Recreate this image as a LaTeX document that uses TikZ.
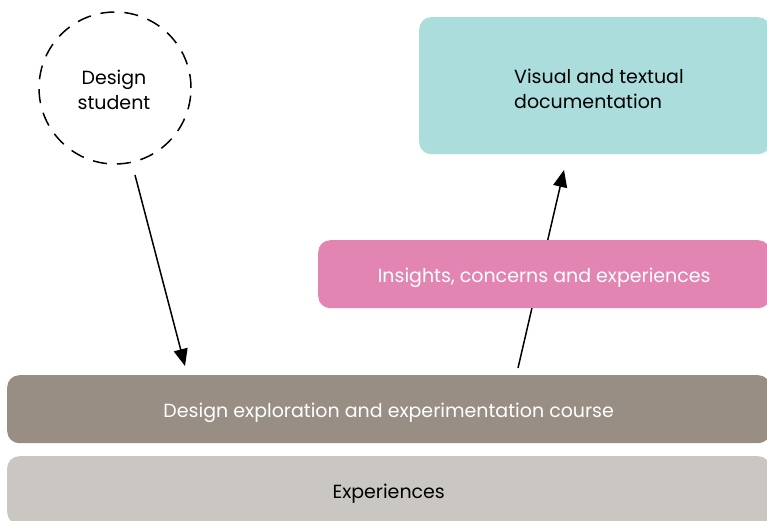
\documentclass[tikz,border=0pt]{standalone}
\usepackage{fontspec}
\setmainfont{Poppins}
\usetikzlibrary{arrows.meta}
\definecolor{tealbox}{HTML}{ABDDDC}
\definecolor{pinkbox}{HTML}{E385B3}
\definecolor{brownbox}{HTML}{998E84}
\definecolor{greybox}{HTML}{CAC7C2}
\tikzset{
  layer/.style={rounded corners=12pt, inner sep=0pt, text height=16pt, text depth=0pt, font=\fontsize{19}{25}\selectfont},
  conn/.style={line width=1.5pt, -{Triangle[length=17pt,width=14pt]}},
  lbl/.style={font=\fontsize{19}{25}\selectfont, inner sep=0pt}
}
\begin{document}
\begin{tikzpicture}[x=1pt,y=-1pt]
\clip (0,0) rectangle (767,520);
\fill[white] (0,0) rectangle (767,520);
% teal box
\node[layer, fill=tealbox, minimum width=351pt, minimum height=137pt, anchor=north west] (doc) at (419,17) {};
\node[lbl, anchor=west, align=left] (doctext) at (514,89) {Visual and textual\\documentation};
% student circle
\node[circle, draw, dash pattern=on 14pt off 10pt, line width=1.5pt, minimum size=152pt, lbl] (student) at (115,88) {};
\node[lbl, align=center] (studenttext) at (114,90) {Design\\student};
% course and experiences
\node[layer, fill=brownbox, text=white, minimum width=763pt, minimum height=68pt, anchor=north west] (course) at (7,375) {Design exploration and experimentation course};
\node[layer, fill=greybox, minimum width=763pt, minimum height=68pt, anchor=north west] (exp) at (7,456) {Experiences};
% connectors
\coordinate (s1) at (135,175);
\coordinate (e1) at (185,366);
\coordinate (s2) at (518,368);
\coordinate (e2) at (564,170);
\draw[conn] (s1) -- (e1);
\draw[conn] (s2) -- (e2);
% insights (drawn over the arrow)
\node[layer, fill=pinkbox, text=white, minimum width=452pt, minimum height=68pt, anchor=north west] (ins) at (318,240) {Insights, concerns and experiences};
\end{tikzpicture}
\end{document}
